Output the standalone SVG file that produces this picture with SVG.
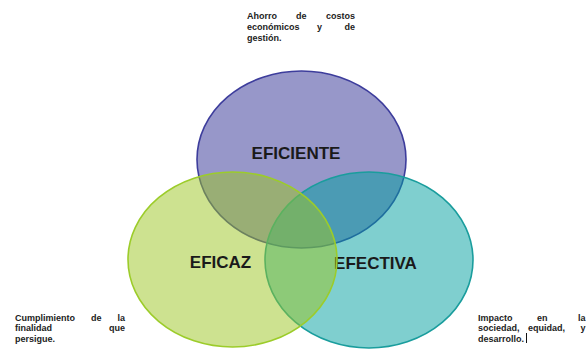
<svg xmlns="http://www.w3.org/2000/svg" width="586" height="356" viewBox="0 0 586 356">
<style>
.c{stroke-width:1.6;fill-opacity:0.5}
.lbl{font-family:"Liberation Sans",Arial,sans-serif;font-weight:bold;font-size:17px;fill:#1a1a1a;text-anchor:middle}
.note{font-family:"Liberation Sans",Arial,sans-serif;font-weight:bold;font-size:9px;fill:#222}
.e{text-anchor:end}
</style>
<rect width="586" height="356" fill="#ffffff"/>
<g id="eficiente">
<ellipse class="c" cx="301.5" cy="159.5" rx="104.5" ry="88.5" fill="#2f2f93" stroke="#3d3d9c"/>
<text class="lbl" x="296" y="159">EFICIENTE</text>
</g>
<g id="efectiva">
<ellipse class="c" cx="369" cy="260" rx="104" ry="88" fill="#009f9f" stroke="#1a9d9d"/>
<text class="lbl" x="375.5" y="268.5">EFECTIVA</text>
</g>
<g id="eficaz">
<ellipse class="c" cx="232.5" cy="259.5" rx="104.5" ry="87.5" fill="#9bc521" stroke="#9ccc2a"/>
<text class="lbl" x="220.5" y="268">EFICAZ</text>
</g>
<g id="connectors"></g>
<g id="nota-eficiente">
<text class="note" y="19"><tspan x="247">Ahorro</tspan><tspan x="296">de</tspan><tspan x="355" class="e">costos</tspan></text>
<text class="note" y="30"><tspan x="247">económicos</tspan><tspan x="317">y</tspan><tspan x="355" class="e">de</tspan></text>
<text class="note" x="247" y="41">gestión.</text>
</g>
<g id="nota-eficaz">
<text class="note" y="321"><tspan x="15">Cumplimiento</tspan><tspan x="91">de</tspan><tspan x="125" class="e">la</tspan></text>
<text class="note" y="331"><tspan x="15">finalidad</tspan><tspan x="125" class="e">que</tspan></text>
<text class="note" x="15" y="342">persigue.</text>
</g>
<g id="nota-efectiva">
<text class="note" y="321"><tspan x="478">Impacto</tspan><tspan x="537">en</tspan><tspan x="585.5" class="e">la</tspan></text>
<text class="note" y="331"><tspan x="478">sociedad,</tspan><tspan x="528">equidad,</tspan><tspan x="585.5" class="e">y</tspan></text>
<text class="note" x="478" y="342">desarrollo.</text>
<line x1="526.5" y1="333" x2="526.5" y2="343" stroke="#111" stroke-width="1"/>
</g>
</svg>
